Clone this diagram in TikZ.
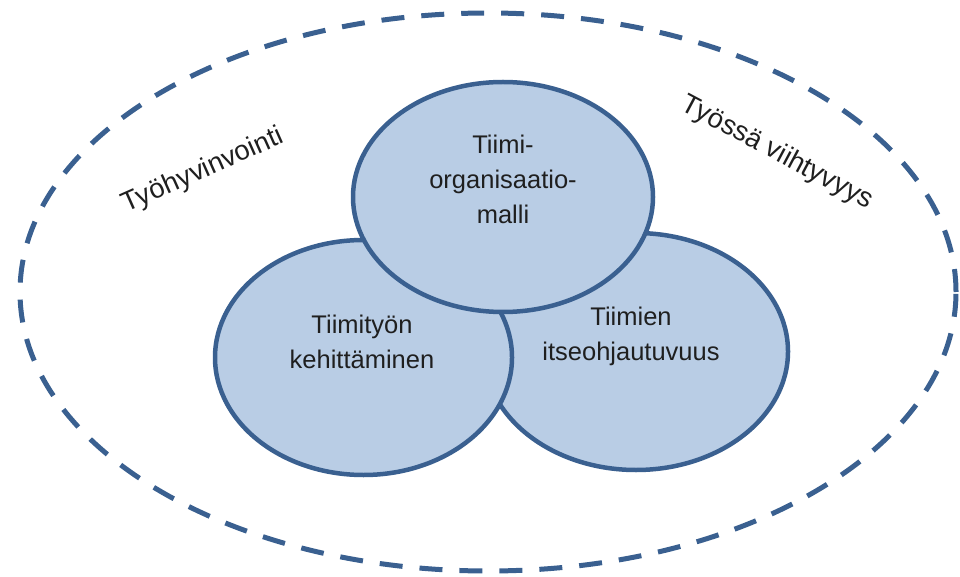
\documentclass[tikz,border=0pt]{standalone}
\usepackage{fontspec}
\setmainfont{Liberation Sans}
\usetikzlibrary{shapes.geometric}
\definecolor{rim}{HTML}{3A6090}
\definecolor{bubblefill}{HTML}{B9CDE5}
\begin{document}
\begin{tikzpicture}[x=1pt,y=-1pt,
  bubble/.style={ellipse, draw=rim, fill=bubblefill, line width=4.5pt, inner sep=0pt},
  caption/.style={font=\fontsize{25.5}{35}\selectfont, text=black!88, align=center, inner sep=0pt},
  slanted/.style={caption, font=\fontsize{27.5}{33}\selectfont},
  boundary/.style={ellipse, draw=rim, line width=5pt, dash pattern=on 23pt off 17pt,
    minimum width=936pt, minimum height=558pt, inner sep=0pt}]
\useasboundingbox (0,0) rectangle (960,577);
% outer dashed frame
\node[boundary] (outer) at (488,292) {};
% three overlapping bubbles (right, left, top in stacking order)
\node[bubble, minimum width=304pt, minimum height=237pt] (selfsteer) at (636,351.5) {};
\node[bubble, minimum width=297pt, minimum height=235pt] (develop) at (363.5,357.5) {};
\node[bubble, minimum width=300pt, minimum height=230pt] (model) at (503,197) {};
% bubble texts
\node[caption] (modeltext) at (503,179) {Tiimi-\\organisaatio-\\malli};
\node[caption] (developtext) at (362,342) {Tiimityön\\kehittäminen};
\node[caption] (selfsteertext) at (631,336) {Tiimien\\itseohjautuvuus};
% slanted labels inside the frame
\node[slanted, rotate=24] (wellbeing) at (203,171) {Työhyvinvointi};
\node[slanted, rotate=-28] (comfort) at (777,153) {Työssä viihtyvyys};
\end{tikzpicture}
\end{document}
